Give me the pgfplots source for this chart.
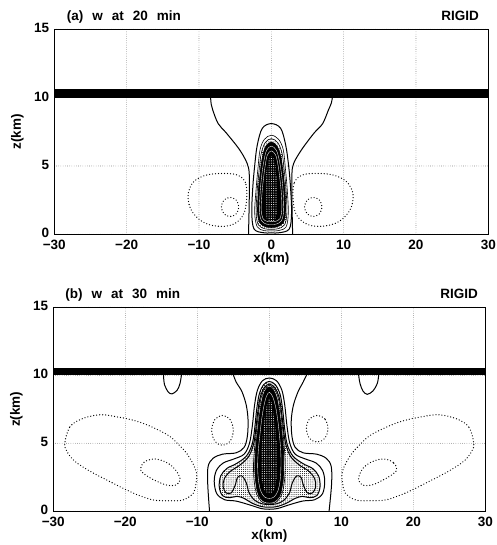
\documentclass[border=0pt]{standalone}
\usepackage{fontspec}
\setmainfont{Liberation Sans}
\usepackage{pgfplots}
\pgfplotsset{compat=1.18}
\usetikzlibrary{patterns.meta}

\tikzset{
  zc/.style={line width=1pt, smooth, tension=0.55},
  cc/.style={line width=1pt, smooth cycle, tension=0.55},
  core/.style={line width=0.6pt, smooth cycle, tension=0.55},
  wl/.style={white, line width=0.35pt, smooth cycle, tension=0.55},
  neg/.style={line width=1.3pt, line cap=round, dash pattern=on 0pt off 3pt, smooth cycle, tension=0.6},
  stip/.style={pattern={Dots[distance=2.1pt, radius=0.5pt]}, pattern color=black},
  wdots/.style={draw=none, smooth cycle, tension=0.55, pattern={Dots[distance=2.3pt, radius=0.55pt]}, pattern color=white},
}

\pgfplotsset{
  panel/.style={
    scale only axis,
    xmin=-30, xmax=30, ymin=0, ymax=15,
    xtick={-30,-20,-10,0,10,20,30},
    xticklabels={−30,−20,−10,0,10,20,30},
    ytick={0,5,10,15},
    yticklabels={0,5,10,15},
    major tick length=0pt,
    tick label style={font=\fontsize{13.5}{13.5}\selectfont\bfseries, inner sep=1pt},
    xticklabel style={yshift=-5pt},
    yticklabel style={xshift=-4pt, yshift=1pt},
    label style={font=\fontsize{13.5}{13.5}\selectfont\bfseries},
    xlabel={x(km)}, ylabel={z(km)},
    xlabel style={at={(axis description cs:0.5,0)}, anchor=center, yshift=-25pt},
    ylabel style={at={(axis description cs:0,0.5)}, anchor=center, yshift=37pt},
    grid=major,
    major grid style={line width=0.6pt, line cap=round, dash pattern=on 0pt off 2.2pt, black!75},
    axis line style={line width=1.2pt},
  },
}

\begin{document}
\begin{tikzpicture}
\useasboundingbox (-53.3pt,-33.7pt) rectangle (442.7pt,511.3pt);

% ---------------- panel (a) ----------------
\begin{axis}[panel, name=a, at={(1pt,277pt)}, anchor=south west, width=434pt, height=205pt]
\addplot[fill=black, draw=none] coordinates {(-30,10) (30,10) (30,10.6) (-30,10.6)};
% zero contour
\addplot[zc] coordinates {(-8.4,10.05) (-8.3,9.5) (-8.1,9.1) (-7.35,8.1) (-6.2,7.4) (-4.4,6.2) (-3.35,5.2) (-3.05,4.4) (-3.05,2.5) (-3.15,0)};
\addplot[zc] coordinates {(8.45,10.05) (8.3,9.6) (7.9,9.1) (7.1,8.1) (5.9,7.4) (4.2,6.2) (3.1,5.2) (2.85,4.4) (2.85,2.5) (2.95,0)};
% positive contours
\addplot[cc] coordinates {(0,8.1) (1.3,7.75) (2.0,6.5) (2.4,5.0) (2.65,3.5) (2.8,1.6) (2.5,0.4) (1.2,0.12) (0,0.1) (-1.2,0.12) (-2.4,0.4) (-2.7,1.6) (-2.55,3.5) (-2.3,5.0) (-1.95,6.5) (-1.25,7.75)};
\addplot[core] coordinates {(0,7.25) (1.0,6.95) (1.65,6.2) (1.95,4.8) (2.2,3.3) (2.35,1.6) (2.05,0.55) (1.0,0.27) (0,0.25) (-1.0,0.27) (-1.95,0.55) (-2.3,1.6) (-2.1,3.3) (-1.85,4.8) (-1.55,6.2) (-0.95,6.95)};
\addplot[core, stip] coordinates {(0,7.0) (0.9,6.7) (1.5,5.9) (1.8,4.6) (2.05,3.2) (2.15,1.6) (1.85,0.7) (0.9,0.4) (0,0.37) (-0.9,0.4) (-1.8,0.7) (-2.1,1.6) (-1.95,3.2) (-1.7,4.6) (-1.4,5.9) (-0.85,6.7)};
\addplot[core, fill=black] coordinates {(0,6.75) (0.8,6.45) (1.35,5.6) (1.65,4.4) (1.9,3.1) (1.95,1.6) (1.65,0.85) (0.8,0.55) (0,0.5) (-0.8,0.55) (-1.6,0.85) (-1.9,1.6) (-1.8,3.1) (-1.55,4.4) (-1.25,5.6) (-0.75,6.45)};
\addplot[wl] coordinates {(0,6.45) (0.7,6.15) (1.15,5.3) (1.45,4.2) (1.65,3.0) (1.7,1.7) (1.4,1.0) (0.7,0.75) (0,0.72) (-0.7,0.75) (-1.35,1.0) (-1.65,1.7) (-1.55,3.0) (-1.35,4.2) (-1.05,5.3) (-0.65,6.15)};
\addplot[wl] coordinates {(0,6.1) (0.6,5.8) (0.95,5.0) (1.2,4.0) (1.4,2.9) (1.45,1.8) (1.2,1.15) (0.6,0.95) (0,0.92) (-0.6,0.95) (-1.15,1.15) (-1.4,1.8) (-1.3,2.9) (-1.1,4.0) (-0.85,5.0) (-0.55,5.8)};
\addplot[wdots] coordinates {(0,5.7) (0.5,5.3) (0.75,4.3) (0.85,3.0) (0.8,1.6) (0.5,1.0) (0,0.9) (-0.5,1.0) (-0.75,1.6) (-0.75,3.0) (-0.7,4.3) (-0.45,5.3)};
% negative contours
\addplot[neg] coordinates {(-3.4,2.6) (-3.6,3.8) (-4.8,4.35) (-7.0,4.45) (-9.2,4.3) (-10.8,3.8) (-11.5,2.9) (-11.1,1.8) (-9.6,0.95) (-7.6,0.6) (-5.4,0.7) (-3.9,1.4)};
\addplot[neg] coordinates {(-4.5,2.0) (-4.85,2.5) (-5.7,2.7) (-6.55,2.5) (-6.9,2.0) (-6.55,1.5) (-5.7,1.3) (-4.85,1.5)};
\addplot[neg] coordinates {(3.0,2.6) (3.2,3.8) (4.4,4.35) (6.6,4.45) (8.8,4.3) (10.5,3.8) (11.3,2.9) (10.9,1.8) (9.4,0.95) (7.3,0.6) (5.1,0.7) (3.5,1.4)};
\addplot[neg] coordinates {(7.0,2.0) (6.65,2.5) (5.8,2.7) (4.95,2.5) (4.6,2.0) (4.95,1.5) (5.8,1.3) (6.65,1.5)};
\end{axis}

% ---------------- panel (b) ----------------
\begin{axis}[panel, name=b, at={(0pt,0pt)}, anchor=south west, width=432pt, height=204pt]
\addplot[fill=black, draw=none] coordinates {(-30,10) (30,10) (30,10.55) (-30,10.55)};
% zero contour
\addplot[zc] coordinates {(-5.0,10.05) (-4.6,9.5) (-3.8,8.8) (-3.2,7.8) (-2.95,6.7) (-3.05,5.5) (-3.5,4.7) (-4.6,4.3) (-6.5,4.2) (-7.8,3.9) (-8.5,3.3) (-8.55,2.0) (-8.3,0)};
\addplot[zc] coordinates {(5.2,10.05) (4.7,9.5) (4.0,8.8) (3.35,7.8) (3.05,6.7) (3.15,5.5) (3.6,4.7) (4.7,4.3) (6.6,4.2) (7.9,3.9) (8.6,3.3) (8.65,2.0) (8.3,0)};
\addplot[zc] coordinates {(-14.7,10.05) (-14.55,9.3) (-14.0,8.75) (-13.5,8.64) (-12.8,8.9) (-12.4,9.4) (-12.2,10.05)};
\addplot[zc] coordinates {(12.4,10.05) (12.6,9.4) (13.0,8.85) (13.6,8.6) (14.4,8.85) (15.0,9.4) (15.2,10.05)};
% positive contours
\addplot[cc] coordinates {(0,9.8) (1.0,9.6) (1.75,8.9) (2.15,7.8) (2.45,6.3) (2.85,5.0) (3.6,4.2) (5.0,3.85) (6.5,3.55) (7.4,3.0) (7.7,2.2) (7.4,1.3) (6.3,0.85) (4.6,0.75) (2.6,0.45) (1.1,0.2) (0,0.15) (-1.1,0.2) (-2.6,0.45) (-4.6,0.75) (-6.2,0.85) (-7.3,1.3) (-7.65,2.2) (-7.35,3.0) (-6.4,3.55) (-4.9,3.85) (-3.5,4.2) (-2.75,5.0) (-2.35,6.3) (-2.05,7.8) (-1.65,8.9) (-0.95,9.6)};
\addplot[cc, stip] coordinates {(0,9.55) (0.85,9.3) (1.5,8.6) (1.85,7.5) (2.15,6.0) (2.5,4.9) (3.3,4.05) (4.7,3.5) (6.0,3.15) (6.85,2.6) (7.05,1.8) (6.6,1.15) (5.6,1.0) (4.6,1.1) (3.6,0.95) (2.4,0.6) (1.1,0.35) (0,0.3) (-1.1,0.35) (-2.4,0.6) (-3.5,0.95) (-4.5,1.1) (-5.5,1.0) (-6.5,1.15) (-6.95,1.8) (-6.75,2.6) (-5.9,3.15) (-4.6,3.5) (-3.2,4.05) (-2.4,4.9) (-2.05,6.0) (-1.75,7.5) (-1.4,8.6) (-0.8,9.3)};
\addplot[cc] coordinates {(0,9.35) (0.75,9.1) (1.35,8.4) (1.7,7.3) (2.0,5.9) (2.3,4.9) (3.0,4.0) (4.3,3.35) (5.5,2.95) (6.3,2.4) (6.45,1.8) (6.0,1.35) (5.3,1.35) (4.75,1.9) (4.4,2.5) (3.8,2.6) (3.2,2.1) (2.8,1.35) (2.0,0.8) (1.0,0.55) (0,0.5) (-1.0,0.55) (-2.0,0.8) (-2.8,1.35) (-3.2,2.1) (-3.8,2.6) (-4.4,2.5) (-4.75,1.9) (-5.3,1.35) (-6.0,1.35) (-6.4,1.8) (-6.25,2.4) (-5.4,2.95) (-4.2,3.35) (-2.9,4.0) (-2.2,4.9) (-1.9,5.9) (-1.6,7.3) (-1.25,8.4) (-0.7,9.1)};
\addplot[core] coordinates {(0,9.25) (0.7,9.0) (1.25,8.3) (1.6,7.2) (1.9,5.8) (2.1,4.6) (2.2,3.4) (2.1,2.2) (1.7,1.2) (0.9,0.65) (0,0.55) (-0.9,0.65) (-1.7,1.2) (-2.1,2.2) (-2.2,3.4) (-2.05,4.6) (-1.8,5.8) (-1.5,7.2) (-1.15,8.3) (-0.65,9.0)};
\addplot[core, fill=black] coordinates {(0,9.15) (0.6,8.9) (1.1,8.2) (1.45,7.1) (1.75,5.8) (1.95,4.6) (2.0,3.4) (1.9,2.2) (1.5,1.2) (0.8,0.75) (0,0.65) (-0.8,0.75) (-1.5,1.2) (-1.9,2.2) (-2.0,3.4) (-1.9,4.6) (-1.65,5.8) (-1.35,7.1) (-1.0,8.2) (-0.55,8.9)};
\addplot[wl] coordinates {(0,8.75) (0.45,8.45) (0.85,7.75) (1.15,6.8) (1.4,5.65) (1.58,4.5) (1.62,3.4) (1.52,2.35) (1.2,1.5) (0.65,1.05) (0,0.95) (-0.65,1.05) (-1.2,1.5) (-1.52,2.35) (-1.62,3.4) (-1.52,4.5) (-1.3,5.65) (-1.05,6.8) (-0.75,7.75) (-0.4,8.45)};
\addplot[wdots] coordinates {(0,8.3) (0.35,7.9) (0.65,7.0) (0.95,5.8) (1.1,4.5) (1.15,3.3) (1.0,2.2) (0.6,1.5) (0,1.35) (-0.6,1.5) (-1.0,2.2) (-1.15,3.3) (-1.05,4.5) (-0.9,5.8) (-0.6,7.0) (-0.3,7.9)};
% negative contours
\addplot[neg] coordinates {(-28.4,5.0) (-27.7,6.2) (-26.0,6.8) (-23.5,7.1) (-21.2,6.95) (-19.3,6.75) (-17.5,6.46) (-15.5,6.0) (-13.8,5.5) (-12.4,4.8) (-11.5,4.28) (-10.6,3.5) (-10.1,2.8) (-10.2,2.0) (-10.55,1.34) (-12.0,0.83) (-14.0,0.78) (-16.1,0.83) (-18.0,1.15) (-19.8,1.56) (-22.2,2.2) (-24.4,2.8) (-26.0,3.3) (-27.2,3.77) (-28.1,4.4)};
\addplot[neg] coordinates {(28.4,5.0) (27.7,6.2) (26.0,6.8) (23.5,7.1) (21.2,6.95) (19.3,6.75) (17.5,6.46) (15.5,6.0) (13.8,5.5) (12.4,4.8) (11.5,4.28) (10.6,3.5) (10.1,2.8) (10.2,2.0) (10.55,1.34) (12.0,0.83) (14.0,0.78) (16.1,0.83) (18.0,1.15) (19.8,1.56) (22.2,2.2) (24.4,2.8) (26.0,3.3) (27.2,3.77) (28.1,4.4)};
\addplot[neg] coordinates {(-17.9,3.1) (-17.4,3.6) (-16.1,3.85) (-14.5,3.65) (-13.2,3.15) (-12.4,2.4) (-12.9,1.95) (-14.24,1.93) (-16.0,2.3) (-17.4,2.75)};
\addplot[neg] coordinates {(17.7,3.1) (17.2,3.6) (15.9,3.85) (14.3,3.65) (13.0,3.15) (12.4,2.4) (12.9,1.95) (14.2,1.93) (15.8,2.3) (17.2,2.75)};
\addplot[neg] coordinates {(-5.0,5.95) (-5.45,6.75) (-6.5,7.05) (-7.55,6.75) (-8.0,5.95) (-7.55,5.15) (-6.5,4.85) (-5.45,5.15)};
\addplot[neg] coordinates {(8.15,6.1) (7.7,6.8) (6.65,7.05) (5.6,6.8) (5.15,6.1) (5.6,5.35) (6.65,5.1) (7.7,5.35)};
\end{axis}

% titles
\node[anchor=base west, font=\fontsize{13.5}{13.5}\selectfont\bfseries, xshift=9pt, yshift=9pt] at (a.north west) {(a)\hspace{9pt}w\hspace{9pt}at\hspace{9pt}20\hspace{9pt}min};
\node[anchor=base east, font=\fontsize{13.5}{13.5}\selectfont\bfseries, xshift=-6pt, yshift=9pt] at (a.north east) {RIGID};
\node[anchor=base west, font=\fontsize{13.5}{13.5}\selectfont\bfseries, xshift=8.5pt, yshift=8.5pt] at (b.north west) {(b)\hspace{9pt}w\hspace{9pt}at\hspace{9pt}30\hspace{9pt}min};
\node[anchor=base east, font=\fontsize{13.5}{13.5}\selectfont\bfseries, xshift=-4pt, yshift=8.5pt] at (b.north east) {RIGID};
\end{tikzpicture}
\end{document}
